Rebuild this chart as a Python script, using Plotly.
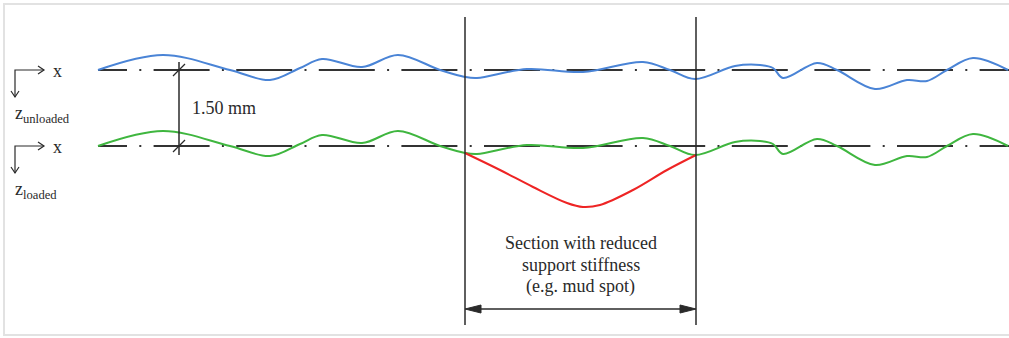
import plotly.graph_objects as go

# ---- data (diagram units: 1 unit = 1 px of the drawing, y grows downward) ----
profile_x = [98, 163, 230, 270, 300, 322, 362, 398, 440, 465, 477, 527, 583, 643, 670, 695,
             735, 760, 773, 783, 817, 837, 875, 907, 927, 947, 973, 1008]
profile_dev = [0, -15, 0, 10, -2, -11, -3, -15, 0, 7, 8, -1, 2, -8, 0, 9,
               -4, -5, -2, 8, -7, 0, 19, 10, 11, 0, -12, 0]

mud_x = [465, 500, 533, 567, 583, 600, 633, 667, 696]
mud_dev = [7, 24, 41, 57, 61, 59, 44, 24, 9]

baseline_unloaded = 70
offset_loaded = 76            # corresponds to 1.50 mm
offset_label = "1.50 mm"
section_start, section_end = 465, 696
section_label_lines = ["Section with reduced", "support stiffness", "(e.g. mud spot)"]
axis_labels = ["unloaded", "loaded"]

W, H = 1009, 338
BLUE, GREEN, RED, INK = "#4a84d6", "#3fb63f", "#ee2424", "#2a2a2a"
FONT = "'Liberation Serif', 'Times New Roman', 'DejaVu Serif', serif"

baseline_loaded = baseline_unloaded + offset_loaded
fig = go.Figure()

# dash-dot centre lines
dash = "29px,12.3px,2px,12.3px," + ",".join(["56px,12.3px,2px,12.3px"] * 12)
for yb in (baseline_unloaded, baseline_loaded):
    fig.add_trace(go.Scatter(x=[profile_x[0], W], y=[yb, yb], mode="lines",
                             line=dict(color="#333333", width=2, dash=dash),
                             hoverinfo="skip", showlegend=False))

# profiles
fig.add_trace(go.Scatter(x=profile_x, y=[baseline_unloaded + d for d in profile_dev],
                         mode="lines", line=dict(color=BLUE, width=2, shape="spline", smoothing=1.0),
                         showlegend=False))
fig.add_trace(go.Scatter(x=profile_x, y=[baseline_loaded + d for d in profile_dev],
                         mode="lines", line=dict(color=GREEN, width=2, shape="spline", smoothing=1.0),
                         showlegend=False))
fig.add_trace(go.Scatter(x=mud_x, y=[baseline_loaded + d for d in mud_dev],
                         mode="lines", line=dict(color=RED, width=2, shape="spline", smoothing=1.0),
                         showlegend=False))

shapes = []
# frame
shapes.append(dict(type="rect", x0=4, x1=W + 10, y0=4, y1=335,
                   line=dict(color="#e2e2e2", width=2), layer="below"))
# section bounds
for xs in (section_start, section_end):
    shapes.append(dict(type="line", x0=xs, x1=xs, y0=17, y1=325, line=dict(color=INK, width=1.5)))
# span arrow
ya = 309
shapes.append(dict(type="line", x0=section_start + 8, x1=section_end - 8, y0=ya, y1=ya,
                   line=dict(color=INK, width=1.5)))
hl, hw = 16, 4
shapes.append(dict(type="path",
                   path=f"M{section_start},{ya} L{section_start + hl},{ya - hw} L{section_start + hl},{ya + hw} Z",
                   fillcolor=INK, line=dict(color=INK, width=1)))
shapes.append(dict(type="path",
                   path=f"M{section_end},{ya} L{section_end - hl},{ya - hw} L{section_end - hl},{ya + hw} Z",
                   fillcolor=INK, line=dict(color=INK, width=1)))
# dimension line
xd = 179
shapes.append(dict(type="line", x0=xd, x1=xd, y0=baseline_unloaded - 8, y1=baseline_loaded + 9,
                   line=dict(color=INK, width=1.5)))
for yb in (baseline_unloaded, baseline_loaded):
    shapes.append(dict(type="line", x0=xd - 6, x1=xd + 6, y0=yb + 6, y1=yb - 6,
                       line=dict(color=INK, width=1.2)))

# axis markers (corner arrows)
annotations = []
cx, hx, dz, ch = 15, 44, 27, 4
for i, yb in enumerate((baseline_unloaded, baseline_loaded)):
    shapes.append(dict(type="path", path=f"M{hx},{yb} L{cx},{yb} L{cx},{yb + dz}",
                       line=dict(color=INK, width=1.2)))
    shapes.append(dict(type="path", path=f"M{hx - 6},{yb - ch} L{hx},{yb} L{hx - 6},{yb + ch}",
                       line=dict(color=INK, width=1.2)))
    shapes.append(dict(type="path", path=f"M{cx - ch},{yb + dz - 6} L{cx},{yb + dz} L{cx + ch},{yb + dz - 6}",
                       line=dict(color=INK, width=1.2)))
    annotations.append(dict(x=57, y=yb + 1, xref="x", yref="y", text="x", showarrow=False,
                            font=dict(family=FONT, size=18, color=INK)))
    annotations.append(dict(x=13, y=yb + 44, xref="x", yref="y", xanchor="left",
                            text=f"z<sub>{axis_labels[i]}</sub>", showarrow=False,
                            font=dict(family=FONT, size=18, color=INK)))
# dimension label
annotations.append(dict(x=190, y=(baseline_unloaded + baseline_loaded) / 2, xref="x", yref="y",
                        xanchor="left", text=offset_label, showarrow=False,
                        font=dict(family=FONT, size=18, color=INK)))
# section label
for k, line in enumerate(section_label_lines):
    annotations.append(dict(x=(section_start + section_end) / 2, y=243 + 21.5 * k, xref="x", yref="y",
                            text=line, showarrow=False,
                            font=dict(family=FONT, size=18, color=INK)))

fig.update_layout(
    width=W, height=H, margin=dict(l=0, r=0, t=0, b=0),
    paper_bgcolor="white", plot_bgcolor="white",
    xaxis=dict(range=[0, W], visible=False, fixedrange=True),
    yaxis=dict(range=[H, 0], visible=False, fixedrange=True),
    shapes=shapes, annotations=annotations, showlegend=False,
)
fig.write_html("out.html")
